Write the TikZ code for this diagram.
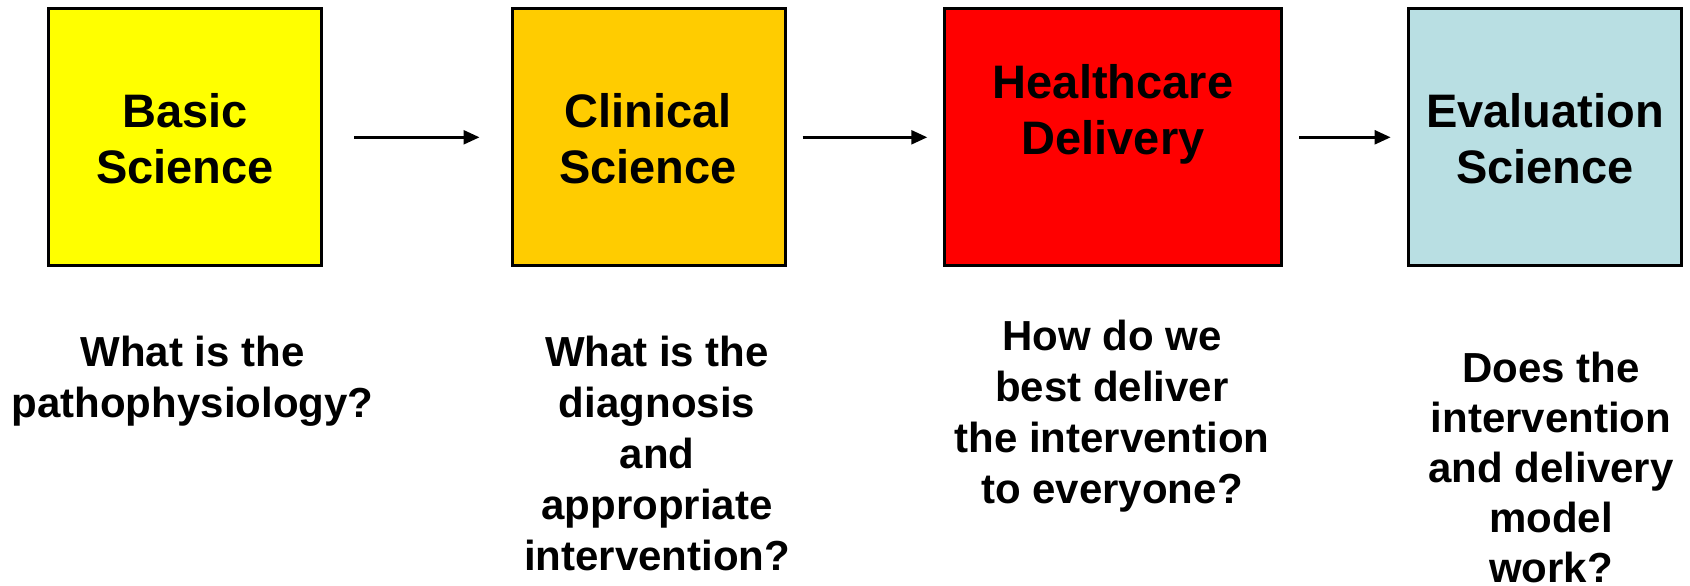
\documentclass[tikz,border=0pt]{standalone}
\usepackage{fontspec}
\setmainfont{Liberation Sans}
\usetikzlibrary{arrows.meta}
\definecolor{cyel}{RGB}{255,255,0}
\definecolor{corg}{RGB}{255,204,0}
\definecolor{cred}{RGB}{255,0,0}
\definecolor{cblu}{RGB}{185,223,227}
\tikzset{
  stagebox/.style={draw=black, line width=3pt, minimum height=256.7pt, inner sep=0pt},
  boxlabel/.style={font=\fontsize{47}{56}\selectfont\bfseries, align=center, anchor=base, inner sep=0pt},
  question/.style={font=\fontsize{42}{51}\selectfont\bfseries, align=center, anchor=base, inner sep=0pt},
  flow/.style={line width=2.5pt, -{Triangle[length=16pt,width=14pt]}}
}
\begin{document}
\begin{tikzpicture}[x=1pt,y=-1pt]
\useasboundingbox (0,0) rectangle (1690,586);
\node[stagebox, fill=cyel, minimum width=273.2pt] (b1) at (185.1,137.3) {};
\node[stagebox, fill=corg, minimum width=273pt] (b2) at (648.5,137.3) {};
\node[stagebox, fill=cred, minimum width=336.3pt] (b3) at (1112.9,137.3) {};
\node[stagebox, fill=cblu, minimum width=272.4pt] (b4) at (1544.8,137.3) {};
% anchor=base is the baseline of the last line
\node[boxlabel] (l1) at (185,183.5) {Basic\\Science};
\node[boxlabel] (l2) at (648,183.5) {Clinical\\Science};
\node[boxlabel] (l3) at (1113,154) {Healthcare\\Delivery};
\node[boxlabel] (l4) at (1545,183.5) {Evaluation\\Science};
\draw[flow, shorten <=31pt, shorten >=31pt] (b1.east) -- (b2.west);
\draw[flow, shorten <=16pt, shorten >=16pt] (b2.east) -- (b3.west);
\draw[flow, shorten <=16.5pt, shorten >=16.5pt] (b3.east) -- (b4.west);
\node[question] (q1) at (192.5,417) {What is the\\pathophysiology?};
\node[question] (q2) at (657,570) {What is the\\diagnosis\\and\\appropriate\\intervention?};
\node[question] (q3) at (1112,503) {How do we\\best deliver\\the intervention\\to everyone?};
\node[question, font=\fontsize{42}{50}\selectfont\bfseries] (q4) at (1551,582.5) {Does the\\intervention\\and delivery\\model\\work?};
\end{tikzpicture}
\end{document}
